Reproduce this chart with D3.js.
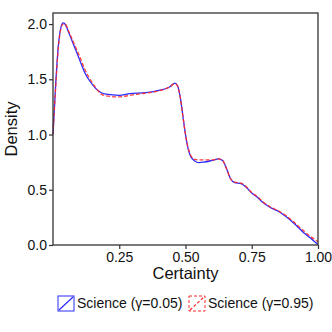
<!DOCTYPE html>
<html>
<head>
<meta charset="utf-8">
<script src="https://cdn.jsdelivr.net/npm/d3@7"></script>
<style>
  body { margin: 0; background: #fff; }
  svg { display: block; font-family: "Liberation Sans", Arial, sans-serif; }
</style>
</head>
<body>
<div id="chart"></div>
<script>
// density curves
const xs = [0.0, 0.01, 0.02, 0.03, 0.038, 0.045, 0.06, 0.08, 0.10, 0.12, 0.14, 0.16, 0.18, 0.20, 0.25,
    0.29, 0.35, 0.40, 0.44, 0.46, 0.47, 0.48, 0.49, 0.50, 0.51, 0.52, 0.535, 0.55, 0.57, 0.60, 0.625,
    0.64, 0.655, 0.67, 0.685, 0.71, 0.73, 0.75, 0.77, 0.79, 0.82, 0.85, 0.88, 0.91, 0.94, 0.97, 1.00];
const lowGamma = [1.0, 1.45, 1.8, 1.97, 2.01, 2.0, 1.92, 1.8, 1.68, 1.56, 1.48, 1.42, 1.38, 1.365, 1.355,
    1.37, 1.38, 1.40, 1.43, 1.465, 1.44, 1.34, 1.17, 1.0, 0.87, 0.80, 0.76, 0.745, 0.75, 0.765, 0.78,
    0.765, 0.69, 0.60, 0.565, 0.555, 0.52, 0.47, 0.435, 0.39, 0.34, 0.305, 0.255, 0.195, 0.125, 0.065, 0.005];
const highGamma = [1.0, 1.42, 1.78, 1.96, 2.0, 2.0, 1.93, 1.82, 1.71, 1.59, 1.50, 1.43, 1.37, 1.35, 1.34,
    1.355, 1.375, 1.395, 1.43, 1.46, 1.44, 1.34, 1.17, 1.0, 0.88, 0.81, 0.775, 0.77, 0.77, 0.77, 0.78,
    0.765, 0.69, 0.60, 0.57, 0.56, 0.525, 0.475, 0.44, 0.395, 0.345, 0.31, 0.265, 0.205, 0.14, 0.08, 0.03];
const seriesNames = ["Science (\u03b3=0.05)", "Science (\u03b3=0.95)"];
const seriesColors = ["#2b2bff", "#ff2b2b"];
const xTicks = [0.25, 0.5, 0.75, 1.0];
const yTicks = [0.0, 0.5, 1.0, 1.5, 2.0];

const width = 332, height = 332;
const margin = {top: 13, right: 14, bottom: 87, left: 53};
const w = width - margin.left - margin.right;
const h = height - margin.top - margin.bottom;

const svg = d3.select("#chart").append("svg")
    .attr("width", width)
    .attr("height", height);
const g = svg.append("g")
    .attr("transform", "translate(" + margin.left + "," + margin.top + ")");

const x = d3.scaleLinear().domain([0, 1]).range([0, w]);
const y = d3.scaleLinear().domain([0, 2.1]).range([h, 0]);

// axes
const xAxis = g.append("g")
    .attr("transform", "translate(0," + h + ")")
    .call(d3.axisBottom(x).tickValues(xTicks).tickFormat(d3.format(".2f")).tickSize(4).tickSizeOuter(0));
const yAxis = g.append("g")
    .call(d3.axisLeft(y).tickValues(yTicks).tickFormat(d3.format(".1f")).tickSize(4).tickSizeOuter(0));
[xAxis, yAxis].forEach(function(a) {
    a.select(".domain").remove();
    a.selectAll("line").attr("stroke", "#333").attr("stroke-width", 1.2);
    a.selectAll("text").attr("fill", "#111").style("font-size", "14px")
        .style("font-family", "'Liberation Sans', Arial, sans-serif");
});
xAxis.selectAll("text").attr("y", 6).attr("dy", "0.8em");
yAxis.selectAll("text").attr("x", -6);

// lines
const line = d3.line()
    .x(function(d, i) { return x(xs[i]); })
    .y(function(d) { return y(d); })
    .curve(d3.curveMonotoneX);

g.append("path")
    .datum(lowGamma)
    .attr("fill", "none")
    .attr("stroke", seriesColors[0])
    .attr("stroke-width", 1.3)
    .attr("d", line);
g.append("path")
    .datum(highGamma)
    .attr("fill", "none")
    .attr("stroke", seriesColors[1])
    .attr("stroke-width", 1.3)
    .attr("stroke-dasharray", "4,2")
    .attr("opacity", 0.9)
    .attr("d", line);

// frame
g.append("rect")
    .attr("width", w)
    .attr("height", h)
    .attr("fill", "none")
    .attr("stroke", "#333")
    .attr("stroke-width", 1.3);

// axis labels
g.append("text")
    .attr("x", w / 2)
    .attr("y", h + 34)
    .attr("text-anchor", "middle")
    .style("font-size", "16.5px")
    .attr("fill", "#111")
    .text("Certainty");
g.append("text")
    .attr("transform", "translate(-36," + (h / 2) + ") rotate(-90)")
    .attr("text-anchor", "middle")
    .style("font-size", "16.5px")
    .attr("fill", "#111")
    .text("Density");

// legend
const legend = svg.append("g").attr("transform", "translate(58,296)");
const legendX = [0, 131];
seriesNames.forEach(function(name, i) {
    const item = legend.append("g").attr("transform", "translate(" + legendX[i] + ",0)");
    const dash = i === 1 ? "3,2" : null;
    item.append("rect")
        .attr("width", 16)
        .attr("height", 15)
        .attr("fill", "none")
        .attr("stroke", seriesColors[i])
        .attr("stroke-width", 1)
        .attr("stroke-dasharray", dash);
    item.append("line")
        .attr("x1", 1).attr("y1", 14)
        .attr("x2", 15).attr("y2", 1)
        .attr("stroke", seriesColors[i])
        .attr("stroke-width", 1.2)
        .attr("stroke-dasharray", dash);
    item.append("text")
        .attr("x", 19)
        .attr("y", 12)
        .style("font-size", "14px")
        .attr("fill", "#111")
        .text(name);
});
</script>
</body>
</html>
